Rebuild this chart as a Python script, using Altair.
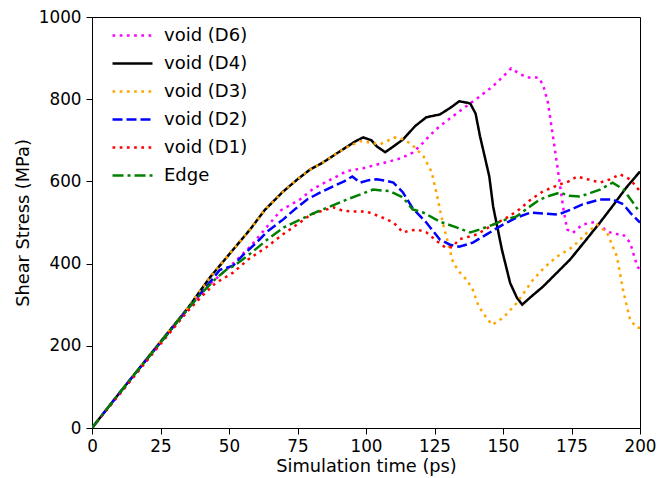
import altair as alt
import pandas as pd

series_names = ["void (D6)", "void (D4)", "void (D3)", "void (D2)", "void (D1)", "Edge"]
series_colors = ["#ff00ff", "#000000", "#ffa500", "#0000ff", "#ff0000", "#008000"]
series_dashes = [[2.7, 4.5], [1, 0], [2.7, 4.5], [10, 4], [2.7, 4.5], [11, 4, 3, 4]]

t_d6 = [0, 10, 25, 35, 43, 50.4, 57.7, 63.9, 69, 75.9, 80.7, 85.8, 93, 99, 104, 108.8, 113, 117, 120, 123, 127, 131.8, 136, 141.6, 146.4, 150, 153, 156, 158.8, 162.8, 164.6, 166.4, 168, 170, 171.9, 173.4, 175.5, 179, 184, 188, 191, 193.8, 196.4, 199, 200]
s_d6 = [0, 82, 205, 287, 350, 393, 441, 490, 530, 556, 582, 600, 625, 632, 641, 649, 657, 670, 688, 710, 735, 759, 780, 807, 832, 855, 875, 862, 853, 853, 836, 792, 720, 629, 539, 483, 475, 495, 502, 478, 472, 471, 451, 393, 385]

t_d4 = [0, 10, 25, 35, 43, 50, 57.7, 63, 69.7, 75, 79.6, 84.3, 91.6, 96, 99, 102, 104, 107, 110, 113.5, 118, 122, 127, 131, 134, 138, 140, 141.6, 143, 145, 146.4, 149.6, 152.6, 155, 157, 160, 164.6, 170, 174.5, 180, 185.4, 190, 195, 200]
s_d4 = [0, 85, 210, 292, 366, 422, 483, 530, 575, 605, 629, 646, 678, 697, 707, 700, 685, 671, 685, 702, 735, 756, 763, 780, 795, 790, 765, 710, 670, 612, 539, 434, 353, 318, 300, 318, 344, 380, 410, 455, 500, 540, 585, 624]

t_d3 = [0, 10, 25, 35, 43, 50, 57.7, 63, 69.7, 75, 79.6, 84.3, 91.6, 97.8, 101, 105, 110.6, 114, 117, 121, 124, 126, 128, 131.8, 134.3, 136.8, 139, 141, 142.7, 146, 150, 155, 161, 165, 169.7, 175.5, 180.6, 184.3, 188, 191.6, 193.8, 196.4, 198.9, 200]
s_d3 = [0, 85, 210, 292, 366, 422, 483, 530, 575, 605, 629, 646, 678, 698, 695, 690, 707, 702, 688, 661, 622, 563, 500, 402, 378, 360, 336, 298, 280, 251, 268, 304, 361, 390, 417, 441, 475, 495, 475, 417, 336, 263, 244, 244]

t_d2 = [0, 10, 25, 35, 40, 46.7, 51.5, 55, 60, 64, 69.7, 74, 78.5, 83, 88, 92, 95, 97.8, 101, 104, 107, 110, 113.5, 117, 122, 127, 130.7, 134, 139, 144, 150, 155, 160, 165, 170, 175, 179, 185.4, 190, 194, 196.4, 200]
s_d2 = [0, 85, 208, 290, 330, 385, 395, 420, 451, 478, 507, 532, 556, 572, 588, 600, 612, 597, 603, 605, 602, 597, 573, 535, 500, 458, 446, 441, 451, 471, 495, 512, 524, 522, 519, 532, 544, 556, 556, 544, 524, 500]

t_d1 = [0, 10, 25, 35, 40, 45, 51.5, 57, 63.9, 69, 75.9, 80, 85.8, 88, 91, 94, 97.8, 100, 105, 110, 113.5, 116, 118.6, 122, 126, 129, 131.5, 134, 140.5, 146.4, 151, 156, 160, 164.6, 168, 170.8, 174, 177, 181, 185.4, 189, 192.7, 196.4, 200]
s_d1 = [0, 82, 205, 285, 320, 352, 378, 410, 441, 468, 500, 520, 532, 537, 530, 527, 527, 527, 515, 500, 476, 480, 483, 476, 454, 439, 440, 459, 471, 495, 510, 532, 555, 576, 585, 593, 600, 612, 605, 597, 605, 617, 605, 576]

t_edge = [0, 10, 25, 35, 40, 45, 49, 52, 57, 63.9, 70, 75.9, 80.7, 85.8, 93, 97.8, 102.6, 108.8, 113.5, 117, 121, 127, 133, 138, 141.6, 146.4, 150, 155, 159, 163.5, 167, 170.8, 174, 178, 182, 185.4, 190, 194, 197.4, 200]
s_edge = [0, 85, 208, 290, 328, 362, 385, 395, 420, 458, 488, 507, 522, 536, 556, 568, 580, 576, 561, 532, 524, 502, 488, 476, 483, 495, 505, 515, 535, 556, 565, 573, 565, 563, 572, 580, 597, 580, 549, 524]

x_ticks = [0, 25, 50, 75, 100, 125, 150, 175, 200]
y_ticks = [0, 200, 400, 600, 800, 1000]

all_t = [t_d6, t_d4, t_d3, t_d2, t_d1, t_edge]
all_s = [s_d6, s_d4, s_d3, s_d2, s_d1, s_edge]
rows = []
for k, (name, ts, ss) in enumerate(zip(series_names, all_t, all_s)):
    for i, (t, s) in enumerate(zip(ts, ss)):
        rows.append({"series": name, "t": t, "s": s, "order": i, "z": k})
df = pd.DataFrame(rows)

FONT = "DejaVu Sans"

chart = alt.Chart(df).mark_line(strokeWidth=2.5, clip=True).encode(
    x=alt.X("t:Q", title="Simulation time (ps)",
            scale=alt.Scale(domain=[0, 200], nice=False, zero=False),
            axis=alt.Axis(values=x_ticks, format="d", labelFlush=False)),
    y=alt.Y("s:Q", title="Shear Stress (MPa)",
            scale=alt.Scale(domain=[0, 1000], nice=False),
            axis=alt.Axis(values=y_ticks, format="d", labelFlush=False)),
    color=alt.Color("series:N", title=None,
                    scale=alt.Scale(domain=series_names, range=series_colors),
                    legend=alt.Legend(orient="none", legendX=25, legendY=3)),
    strokeDash=alt.StrokeDash("series:N", title=None,
                              scale=alt.Scale(domain=series_names, range=series_dashes)),
    detail="series:N",
    order="order:Q",
).properties(
    width=548, height=411,
    autosize=alt.AutoSizeParams(type="none"),
    padding={"left": 92, "top": 17, "right": 18, "bottom": 50},
).configure_view(
    stroke="black", strokeWidth=1
).configure_axis(
    domainColor="black", domainWidth=1, tickColor="black", tickSize=6, tickWidth=1,
    grid=False, labelFont=FONT, labelFontSize=16.8, labelColor="black",
    titleFont=FONT, titleFontSize=17.8, titleFontWeight="normal", titleColor="black",
).configure_axisY(
    titlePadding=5.5, labelPadding=5,
).configure_axisX(
    titlePadding=3, labelPadding=4,
).configure_legend(
    symbolType="M-1.45,0H1.45", symbolSize=760, symbolStrokeWidth=2.5,
    labelFont=FONT, labelFontSize=18, labelColor="black", labelOffset=16,
    rowPadding=3, padding=0,
)

chart.save("out.html", embed_options={"renderer": "svg", "actions": False})
